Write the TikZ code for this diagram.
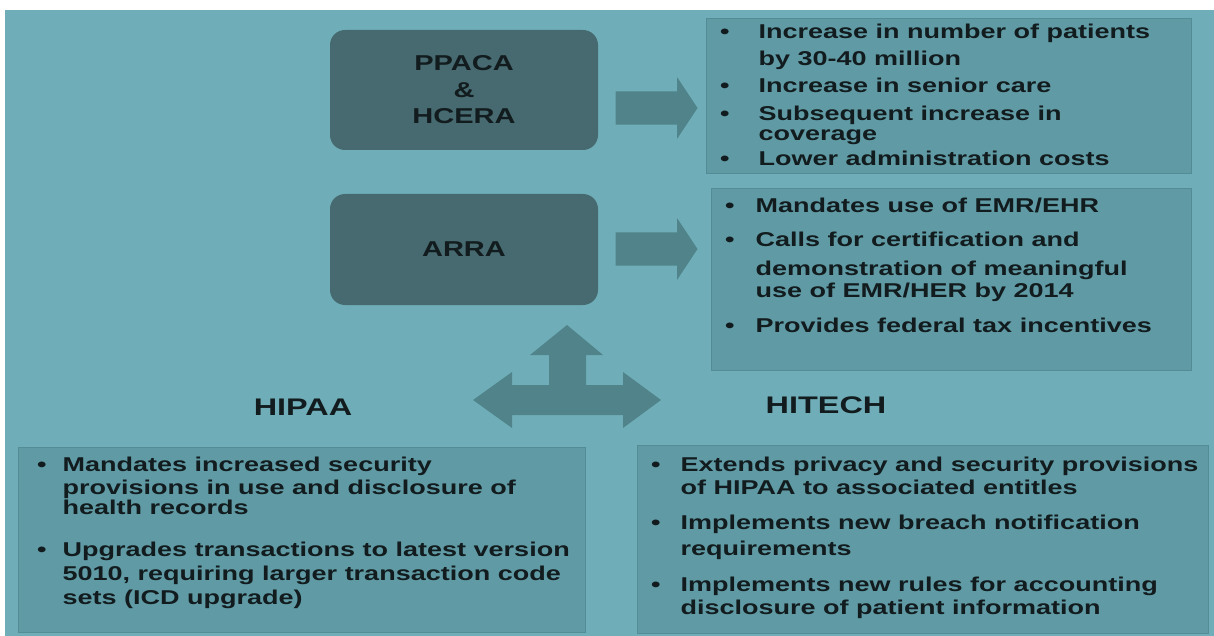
\documentclass[tikz,border=0pt]{standalone}
\usepackage{fontspec}
\setmainfont{Liberation Sans}[FakeStretch=1.35]
\usetikzlibrary{shapes.arrows}
\definecolor{bgteal}{RGB}{111,174,184}
\definecolor{boxteal}{RGB}{70,106,112}
\definecolor{arrowteal}{RGB}{80,131,138}
\definecolor{listteal}{RGB}{96,155,165}
\definecolor{listedge}{RGB}{84,140,150}
\definecolor{inkdark}{RGB}{18,28,30}
\tikzset{
  actbox/.style={fill=boxteal, rounded corners=15pt, minimum width=268pt, align=center, text=inkdark, font=\fontsize{21.5}{26.5}\selectfont\bfseries},
  listbox/.style={fill=listteal, draw=listedge, line width=1pt, anchor=north west, inner sep=0pt},
  listtext/.style={anchor=north west, inner sep=0pt, text=inkdark, font=\fontsize{20}{20}\selectfont\bfseries},
  headlabel/.style={text=inkdark, font=\fontsize{24}{24}\selectfont\bfseries},
  blockarrow/.style={single arrow, fill=arrowteal, minimum height=82pt, inner xsep=0pt, inner ysep=16.5pt, single arrow head extend=14pt, single arrow tip angle=113}
}
\begin{document}
\begin{tikzpicture}[x=1pt,y=-1pt]
\useasboundingbox (0,0) rectangle (1214,636);
\fill[bgteal] (5,10) rectangle (1214,636);
% acts
\node[actbox, minimum height=120pt] (ppaca) at (464,90) {PPACA\\\&\\HCERA};
\node[actbox, minimum height=111pt] (arra) at (464,249.5) {ARRA};
\foreach \n/\y in {ppacaarrow/108,arraarrow/249} \node[blockarrow] (\n) at (651,\y) {};
% lists on the right
\node[listbox, minimum width=485pt, minimum height=155pt] (ppacalist) at (706,18) {};
\node[listtext] (ppacatext) at ([shift={(14,6)}]ppacalist.north west) {%
\begin{tabular}{@{}l@{\hspace{29pt}}l@{}}
\textbullet & Increase in number of patients\\[6pt]
 & by 30-40 million\\[7pt]
\textbullet & Increase in senior care\\[7pt]
\textbullet & Subsequent increase in\\
 & coverage\\[5pt]
\textbullet & Lower administration costs
\end{tabular}};
\node[listbox, minimum width=480pt, minimum height=182pt] (arralist) at (711,188) {};
\node[listtext] (arratext) at ([shift={(14,10)}]arralist.north west) {%
\begin{tabular}{@{}l@{\hspace{21pt}}l@{}}
\textbullet & Mandates use of EMR/EHR\\[13pt]
\textbullet & Calls for certification and\\[9pt]
 & demonstration of meaningful\\[1pt]
 & use of EMR/HER by 2014\\[15pt]
\textbullet & Provides federal tax incentives
\end{tabular}};
% the two acts below
\node[headlabel] (hipaa) at (303,407) {HIPAA};
\node[headlabel] (hitech) at (826,405) {HITECH};
\fill[arrowteal] (473,400) -- (512,372) -- (512,385) -- (549,385) -- (549,355) -- (530,355)
  -- (567,325) -- (603,355) -- (586,355) -- (586,385) -- (623,385) -- (623,372)
  -- (661,400) -- (623,428) -- (623,415) -- (512,415) -- (512,428) -- cycle;
\node[listbox, minimum width=567pt, minimum height=185pt] (hipaalist) at (18,447) {};
\node[listtext] (hipaatext) at ([shift={(19,10)}]hipaalist.north west) {%
\begin{tabular}{@{}l@{\hspace{16pt}}l@{}}
\textbullet & Mandates increased security\\[2pt]
 & provisions in use and disclosure of\\
 & health records\\[21pt]
\textbullet & Upgrades transactions to latest version\\[4pt]
 & 5010, requiring larger transaction code\\[3pt]
 & sets (ICD upgrade)
\end{tabular}};
\node[listbox, minimum width=571pt, minimum height=188pt] (hitechlist) at (637,445) {};
\node[listtext] (hitechtext) at ([shift={(14,12)}]hitechlist.north west) {%
\begin{tabular}{@{}l@{\hspace{20pt}}l@{}}
\textbullet & Extends privacy and security provisions\\[2pt]
 & of HIPAA to associated entitles\\[15pt]
\textbullet & Implements new breach notification\\[5pt]
 & requirements\\[16pt]
\textbullet & Implements new rules for accounting\\[2pt]
 & disclosure of patient information
\end{tabular}};
\end{tikzpicture}
\end{document}
